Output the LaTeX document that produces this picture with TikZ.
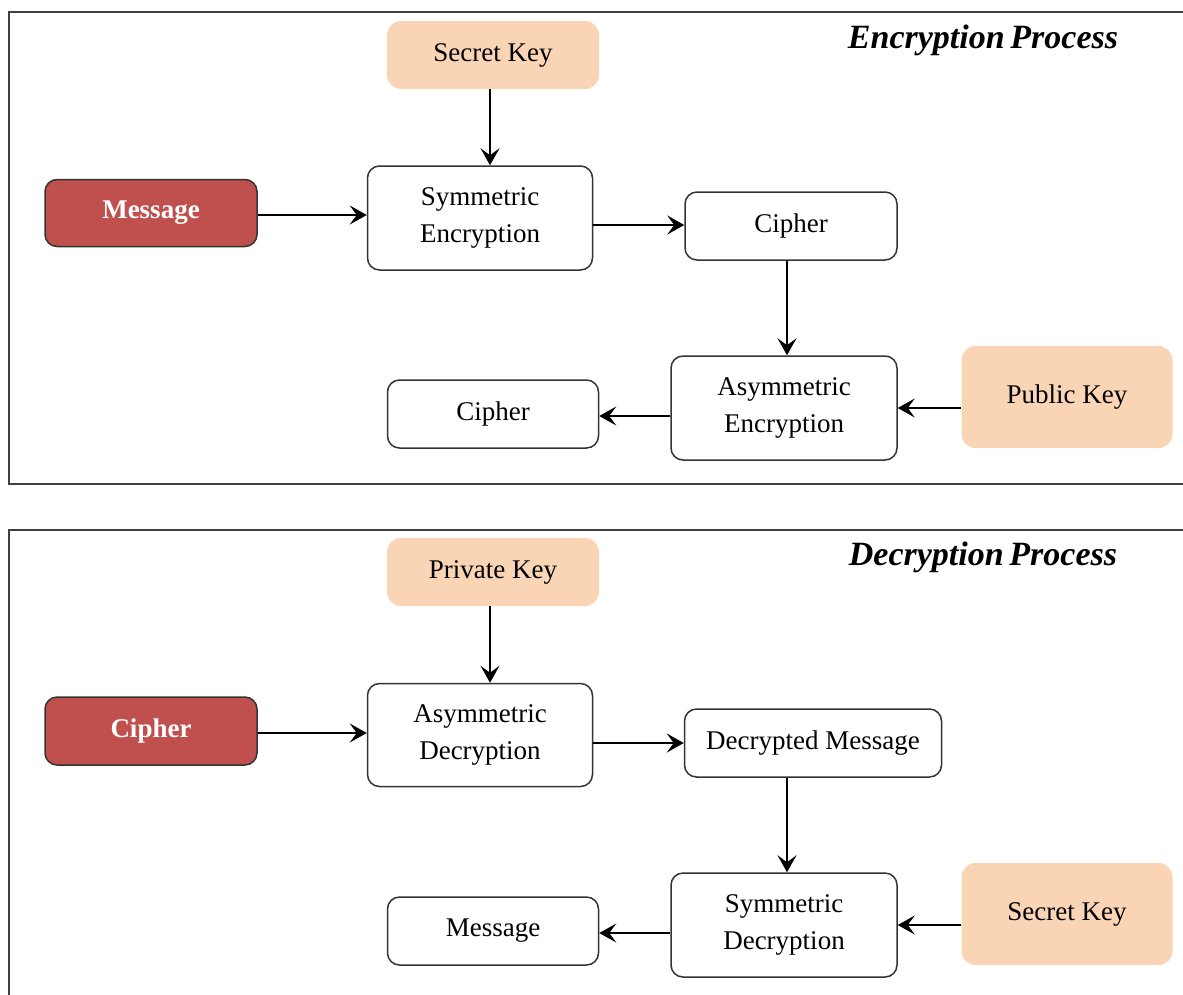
\documentclass[tikz,border=0pt]{standalone}
\usepackage{fontspec}
\setmainfont{Liberation Serif}
\usetikzlibrary{arrows.meta}
\definecolor{peach}{HTML}{F9D5B5}
\definecolor{redbox}{HTML}{C0504D}
\definecolor{edge}{HTML}{333333}
\definecolor{framec}{HTML}{404040}
\tikzset{
  base/.style={rounded corners=12pt, align=center, inner sep=0pt,
    font=\fontsize{27}{37}\selectfont},
  proc/.style={base, draw=edge, line width=1.5pt, fill=white},
  keybox/.style={base, fill=peach, rounded corners=14pt},
  redbox/.style={base, draw=edge, line width=1.5pt, fill=redbox, text=white,
    font=\fontsize{27}{37}\selectfont\bfseries},
  arr/.style={-{Stealth[length=17pt,width=19pt,inset=7pt]}, line width=1.5pt, draw=black},
  frame/.style={draw=framec, line width=2pt},
  ttl/.style={font=\fontsize{34}{37}\selectfont\bfseries\itshape, inner sep=0pt}
}
\begin{document}
\begin{tikzpicture}[x=1pt,y=-1pt]
\useasboundingbox (0,0) rectangle (1183,994);
% frames
\draw[frame] (1200,12) -- (9,12) -- (9,484) -- (1200,484);
\draw[frame] (1200,530) -- (9,530) -- (9,1010);
\node[ttl] (t1) at (983,40) {Encryption\,Process};
\node[ttl] (t2) at (983,557) {Decryption\,Process};

% --- Encryption ---
\node[keybox, minimum width=212, minimum height=68] (sk1) at (493,55) {Secret Key};
\node[redbox, minimum width=212, minimum height=67] (msg1) at (151,213) {Message};
\node[proc, minimum width=225, minimum height=104] (se) at (480,218) {Symmetric\\Encryption};
\node[proc, minimum width=212, minimum height=68] (c1) at (791,226) {Cipher};
\node[proc, minimum width=226, minimum height=104] (ae) at (784,408) {Asymmetric\\Encryption};
\node[keybox, minimum width=211, minimum height=102] (pk) at (1067,397) {Public Key};
\node[proc, minimum width=211, minimum height=68] (c2) at (493,414) {Cipher};

\coordinate (r1) at (0,215);
\coordinate (r2) at (0,225);
\coordinate (r3) at (0,408);
\coordinate (r4) at (0,416);
\coordinate (v1) at (490,0);
\coordinate (v2) at (787,0);

\draw[arr] (sk1.south -| v1) -- (se.north -| v1);
\draw[arr] (msg1.east |- r1) -- (se.west |- r1);
\draw[arr] (se.east |- r2) -- (c1.west |- r2);
\draw[arr] (c1.south -| v2) -- (ae.north -| v2);
\draw[arr] (pk.west |- r3) -- (ae.east |- r3);
\draw[arr] (ae.west |- r4) -- (c2.east |- r4);

% --- Decryption ---
\node[keybox, minimum width=212, minimum height=68] (prk) at (493,572) {Private Key};
\node[redbox, minimum width=212, minimum height=68] (c3) at (151,731) {Cipher};
\node[proc, minimum width=225, minimum height=103] (ad) at (480,735) {Asymmetric\\Decryption};
\node[proc, minimum width=257, minimum height=68] (dm) at (813,743) {Decrypted Message};
\node[proc, minimum width=226, minimum height=104] (sd) at (784,925) {Symmetric\\Decryption};
\node[keybox, minimum width=211, minimum height=102] (sk2) at (1067,914) {Secret Key};
\node[proc, minimum width=211, minimum height=68] (m2) at (493,931) {Message};

\coordinate (r5) at (0,733);
\coordinate (r6) at (0,743);
\coordinate (r7) at (0,925);
\coordinate (r8) at (0,933);

\draw[arr] (prk.south -| v1) -- (ad.north -| v1);
\draw[arr] (c3.east |- r5) -- (ad.west |- r5);
\draw[arr] (ad.east |- r6) -- (dm.west |- r6);
\draw[arr] (dm.south -| v2) -- (sd.north -| v2);
\draw[arr] (sk2.west |- r7) -- (sd.east |- r7);
\draw[arr] (sd.west |- r8) -- (m2.east |- r8);
\end{tikzpicture}
\end{document}
